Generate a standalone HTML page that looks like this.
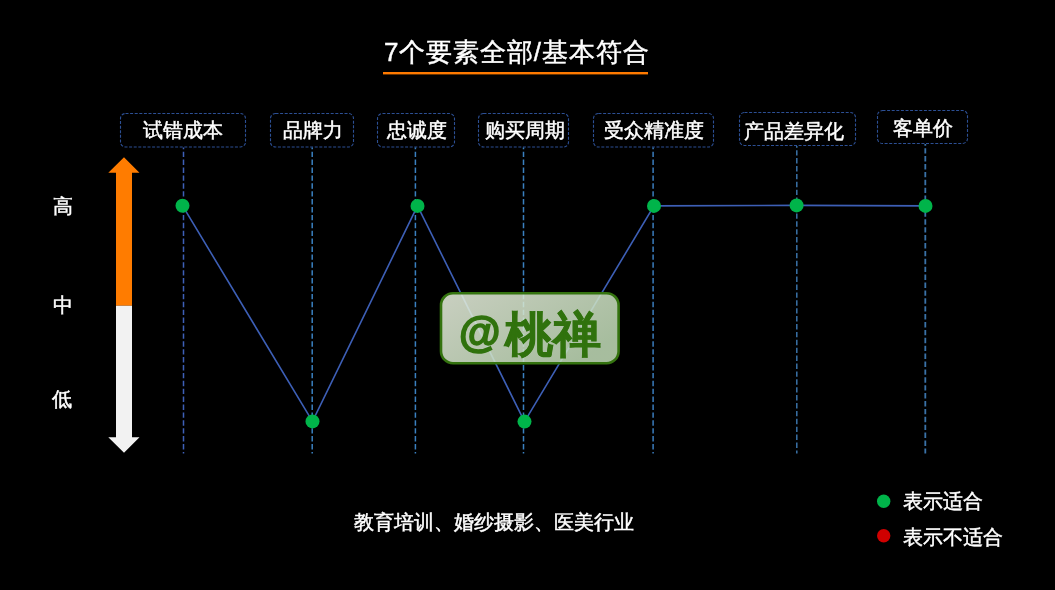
<!DOCTYPE html>
<html><head><meta charset="utf-8">
<style>
html,body{margin:0;padding:0;background:#000;}
body{width:1055px;height:590px;position:relative;overflow:hidden;font-family:"Liberation Sans",sans-serif;color:#fff;}
.t{position:absolute;white-space:nowrap;line-height:1;will-change:transform;-webkit-text-stroke:0.45px #fff;}
svg{position:absolute;left:0;top:0;}
</style></head><body>
<svg width="1055" height="590" viewBox="0 0 1055 590">
  <!-- title underline -->
  <rect x="383" y="72" width="265" height="2.4" fill="#ff7a00"/>
  <!-- label boxes -->
  <g fill="none" stroke="#2c4f94" stroke-width="1.1" stroke-dasharray="3 1.6">
    <rect x="120.5" y="113.5" width="125" height="33.5" rx="5"/>
    <rect x="270.5" y="113.5" width="83" height="33.5" rx="5"/>
    <rect x="377.5" y="113.5" width="77" height="33.5" rx="5"/>
    <rect x="478.5" y="113.5" width="90" height="33.5" rx="5"/>
    <rect x="593.5" y="113.5" width="120" height="33.5" rx="5"/>
    <rect x="739.5" y="112.5" width="116" height="33" rx="5"/>
    <rect x="877.5" y="110.5" width="90" height="33" rx="5"/>
  </g>
  <!-- vertical dashed lines -->
  <g stroke-width="1.5" stroke-dasharray="5.4 2.5" stroke-dashoffset="-4.2">
    <line stroke="#3e60b8" x1="183.5" y1="147.5" x2="183.5" y2="453.5"/>
    <line stroke="#3a80c0" x1="312.2" y1="147.5" x2="312.2" y2="453.5"/>
    <line stroke="#3a80c0" x1="415.4" y1="147.5" x2="415.4" y2="453.5"/>
    <line stroke="#3a80c0" x1="523.5" y1="147.5" x2="523.5" y2="453.5"/>
    <line stroke="#3a7cbc" x1="653.1" y1="147.5" x2="653.1" y2="453.5"/>
    <line stroke="#3a72a8" x1="796.8" y1="146" x2="796.8" y2="453.5"/>
    <line stroke="#3a72a8" stroke-width="1.8" x1="925.3" y1="144" x2="925.3" y2="453.5"/>
  </g>
  <!-- connecting line -->
  <polyline fill="none" stroke="#3d5fb6" stroke-width="1.6" points="182.5,205.7 312.5,421.4 417.5,205.9 524.5,421.6 654,205.9 796.6,205.4 925.5,205.9"/>
  <!-- dots -->
  <g fill="#00b44a">
    <circle cx="182.5" cy="205.7" r="7"/>
    <circle cx="312.5" cy="421.4" r="7"/>
    <circle cx="417.5" cy="205.9" r="7"/>
    <circle cx="524.5" cy="421.6" r="7"/>
    <circle cx="654" cy="205.9" r="7"/>
    <circle cx="796.6" cy="205.4" r="7"/>
    <circle cx="925.5" cy="205.9" r="7"/>
  </g>
  <!-- arrow -->
  <polygon fill="#ff7c00" points="124,157.2 139.5,172.7 132,172.7 132,305.7 116,305.7 116,172.7 108.3,172.7"/>
  <polygon fill="#f2f2f2" points="116,305.7 132,305.7 132,437.2 139.5,437.2 124,452.7 108.3,437.2 116,437.2"/>
  <!-- watermark -->
  <defs>
    <linearGradient id="wg" x1="0" y1="0" x2="1" y2="0.6">
      <stop offset="0" stop-color="#eaf1e0"/>
      <stop offset="1" stop-color="#c2dcb8"/>
    </linearGradient>
  </defs>
  <rect x="441" y="293.2" width="177.6" height="70" rx="12" fill="url(#wg)" fill-opacity="0.86" stroke="#34730f" stroke-width="2.6"/>
  <!-- legend dots -->
  <circle cx="883.7" cy="501.3" r="6.7" fill="#00b44a"/>
  <circle cx="883.7" cy="535.7" r="6.7" fill="#d00000"/>
</svg>

<div class="t" style="left:384px;top:38.8px;font-size:26px;letter-spacing:0.9px;">7个要素全部/基本符合</div>

<div class="t" style="left:143px;top:120px;font-size:20px;">试错成本</div>
<div class="t" style="left:283px;top:120px;font-size:20px;">品牌力</div>
<div class="t" style="left:387px;top:120px;font-size:20px;">忠诚度</div>
<div class="t" style="left:485px;top:120px;font-size:20px;">购买周期</div>
<div class="t" style="left:604px;top:120px;font-size:20px;">受众精准度</div>
<div class="t" style="left:744px;top:121px;font-size:20px;">产品差异化</div>
<div class="t" style="left:893px;top:117.5px;font-size:20px;">客单价</div>

<div class="t" style="left:52.7px;top:196px;font-size:20px;">高</div>
<div class="t" style="left:53px;top:295px;font-size:20px;">中</div>
<div class="t" style="left:52px;top:389px;font-size:20px;">低</div>

<div class="t" style="left:459px;top:311.5px;font-size:42.5px;font-weight:700;color:#30720d;-webkit-text-stroke:1.6px #30720d;">@</div>
<div class="t" style="left:505px;top:311px;font-size:47.5px;font-weight:700;color:#30720d;-webkit-text-stroke:0.8px #30720d;">桃禅</div>

<div class="t" style="left:354px;top:512.8px;font-size:19.6px;">教育培训、婚纱摄影、医美行业</div>

<div class="t" style="left:902.5px;top:492px;font-size:19.8px;">表示适合</div>
<div class="t" style="left:902.5px;top:528px;font-size:19.8px;">表示不适合</div>
</body></html>
